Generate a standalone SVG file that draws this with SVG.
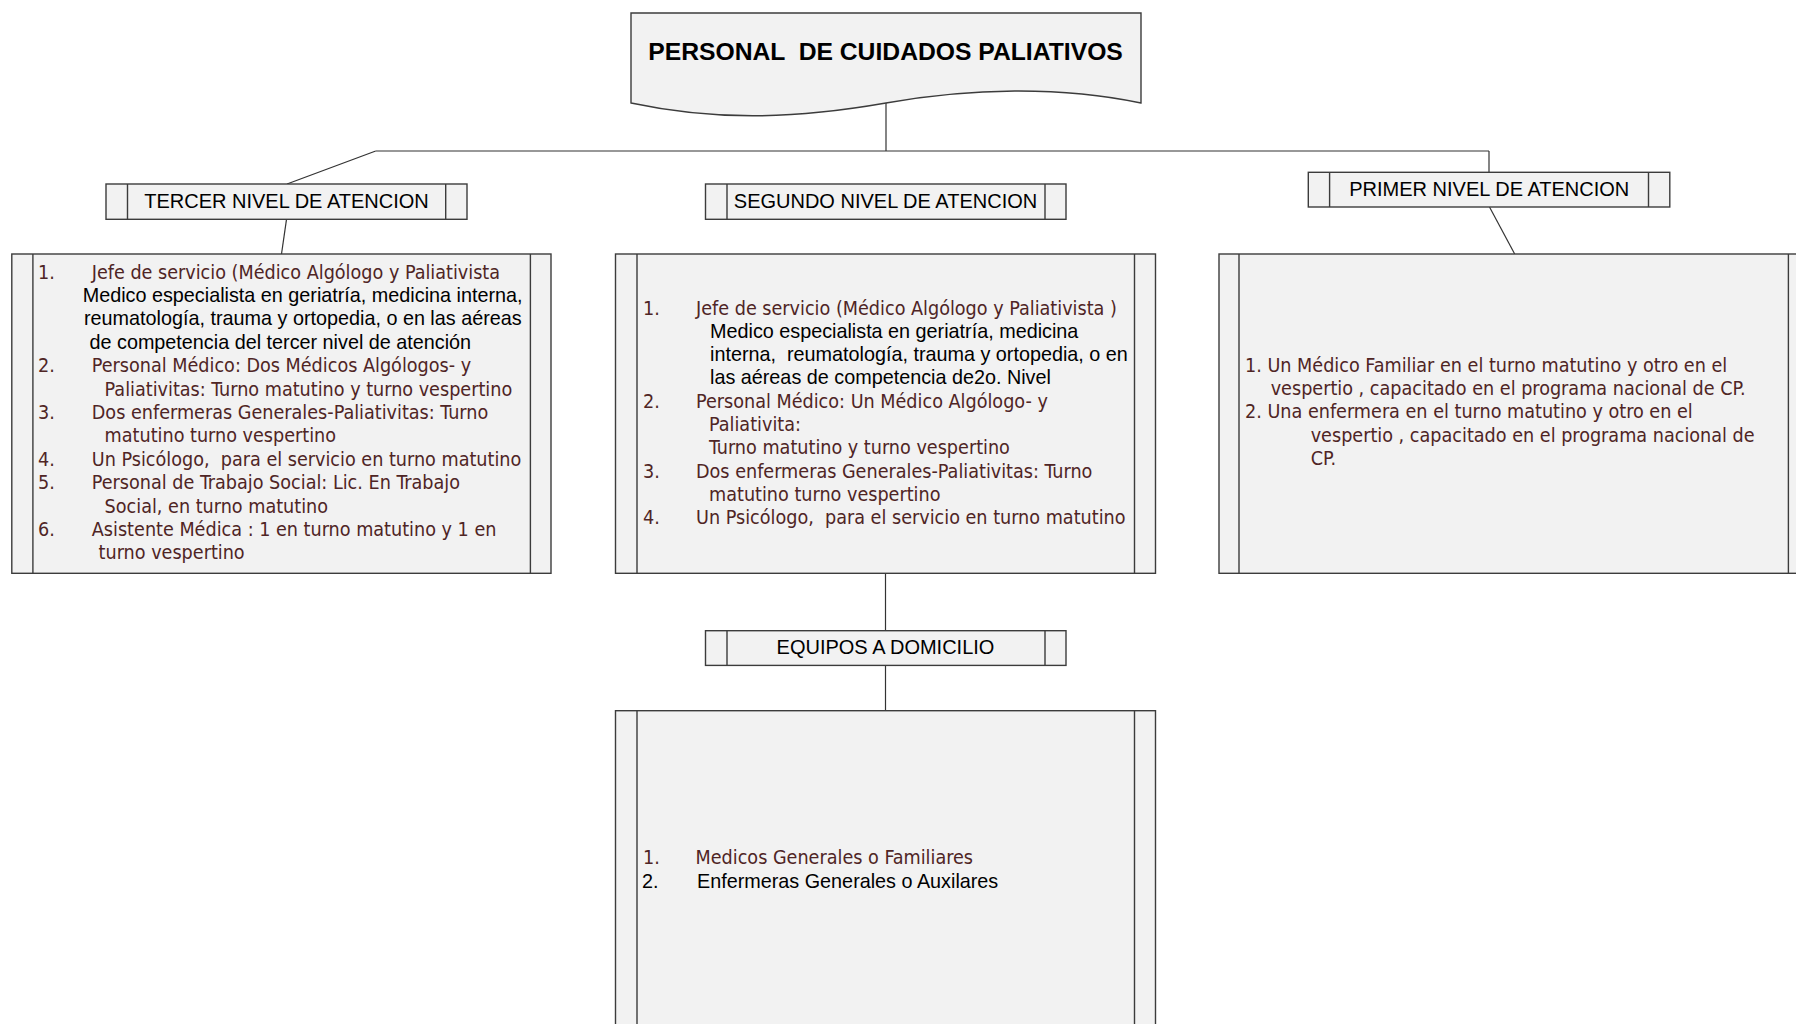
<svg xmlns="http://www.w3.org/2000/svg" width="1796" height="1024" viewBox="0 0 1796 1024" xml:space="preserve">
<style>
text{white-space:pre}
.box{fill:#f2f2f2;stroke:#3c3c3c;stroke-width:1.4}
.dv{fill:none;stroke:#3c3c3c;stroke-width:1.4}
.conn{fill:none;stroke:#333;stroke-width:1.2}
.hdr{font-family:"Liberation Sans",Arial,sans-serif;font-size:20px;fill:#000;text-anchor:middle}
.ttl{font-family:"Liberation Sans",Arial,sans-serif;font-size:24.7px;font-weight:bold;fill:#000;text-anchor:middle}
.br{font-family:"DejaVu Sans Condensed","DejaVu Sans",sans-serif;font-stretch:condensed;font-size:19.6px;fill:#4f2525}
.bk{font-family:"Liberation Sans",Arial,sans-serif;font-size:19.8px;fill:#000}
</style>
<rect width="1796" height="1024" fill="#fff"/>
<g id="connectors">
<path class="conn" d="M886,103 V151"/>
<path class="conn" d="M375.7,151 H1489"/>
<path class="conn" d="M375.7,151 L287,184"/>
<path class="conn" d="M1489,151 V172.3"/>
<path class="conn" d="M286.5,219.3 L281.5,254"/>
<path class="conn" d="M1489.5,207 L1514.7,254"/>
<path class="conn" d="M885.5,573.3 V630.7"/>
<path class="conn" d="M885.5,665.3 V710.7"/>
</g>
<g id="title">
<path class="box" d="M631,13 H1141 V103 C1060,86 970,88 886,103 C800,118 720,122 631,103 Z"/>
<text class="ttl" x="885.5" y="60">PERSONAL  DE CUIDADOS PALIATIVOS</text>
</g>
<g id="tercer-nivel">
<rect class="box" x="106" y="184" width="361" height="35.3"/>
<path class="dv" d="M127.5,184 V219.3 M445.7,184 V219.3"/>
<text class="hdr" x="286.5" y="207.7">TERCER NIVEL DE ATENCION</text>
</g>
<g id="segundo-nivel">
<rect class="box" x="705.5" y="184" width="360.5" height="35.3"/>
<path class="dv" d="M727,184 V219.3 M1045,184 V219.3"/>
<text class="hdr" x="885.5" y="207.7">SEGUNDO NIVEL DE ATENCION</text>
</g>
<g id="primer-nivel">
<rect class="box" x="1308.3" y="172.3" width="361.5" height="34.7"/>
<path class="dv" d="M1329.6,172.3 V207 M1648.5,172.3 V207"/>
<text class="hdr" x="1489.3" y="195.5">PRIMER NIVEL DE ATENCION</text>
</g>
<g id="equipos-domicilio">
<rect class="box" x="705.5" y="630.7" width="360.5" height="34.7"/>
<path class="dv" d="M727,630.7 V665.4 M1045,630.7 V665.4"/>
<text class="hdr" x="885.5" y="653.5">EQUIPOS A DOMICILIO</text>
</g>
<g id="tercer-lista">
<rect class="box" x="11.8" y="254" width="539.2" height="319.3"/>
<path class="dv" d="M32.9,254 V573.3 M530.4,254 V573.3"/>
<text class="br" x="38" y="278.5">1.</text>
<text class="br" x="91.7" y="278.5">Jefe de servicio (Médico Algólogo y Paliativista</text>
<text class="bk" x="82.7" y="301.9">Medico especialista en geriatría, medicina interna,</text>
<text class="bk" x="84" y="325.3">reumatología, trauma y ortopedia, o en las aéreas</text>
<text class="bk" x="89.5" y="348.7">de competencia del tercer nivel de atención</text>
<text class="br" x="38" y="372.1">2.</text>
<text class="br" x="91.8" y="372.1">Personal Médico: Dos Médicos Algólogos- y</text>
<text class="br" x="104.6" y="395.5">Paliativitas: Turno matutino y turno vespertino</text>
<text class="br" x="38" y="418.9">3.</text>
<text class="br" x="91.8" y="418.9">Dos enfermeras Generales-Paliativitas: Turno</text>
<text class="br" x="104.6" y="442.3">matutino turno vespertino</text>
<text class="br" x="38" y="465.7">4.</text>
<text class="br" x="91.8" y="465.7">Un Psicólogo,  para el servicio en turno matutino</text>
<text class="br" x="38" y="489.1">5.</text>
<text class="br" x="91.8" y="489.1">Personal de Trabajo Social: Lic. En Trabajo</text>
<text class="br" x="104.6" y="512.5">Social, en turno matutino</text>
<text class="br" x="38" y="535.9">6.</text>
<text class="br" x="91.8" y="535.9">Asistente Médica : 1 en turno matutino y 1 en</text>
<text class="br" x="98.6" y="559.3">turno vespertino</text>
</g>
<g id="segundo-lista">
<rect class="box" x="615.5" y="254" width="540" height="319.3"/>
<path class="dv" d="M637,254 V573.3 M1134.5,254 V573.3"/>
<text class="br" x="643" y="314.5">1.</text>
<text class="br" x="696" y="314.5">Jefe de servicio (Médico Algólogo y Paliativista )</text>
<text class="bk" x="710" y="337.8">Medico especialista en geriatría, medicina</text>
<text class="bk" x="710" y="361.1">interna,  reumatología, trauma y ortopedia, o en</text>
<text class="bk" x="710" y="384.4">las aéreas de competencia de2o. Nivel</text>
<text class="br" x="643" y="407.7">2.</text>
<text class="br" x="696" y="407.7">Personal Médico: Un Médico Algólogo- y</text>
<text class="br" x="709" y="431">Paliativita:</text>
<text class="br" x="709" y="454.3">Turno matutino y turno vespertino</text>
<text class="br" x="643" y="477.6">3.</text>
<text class="br" x="696" y="477.6">Dos enfermeras Generales-Paliativitas: Turno</text>
<text class="br" x="709" y="500.9">matutino turno vespertino</text>
<text class="br" x="643" y="524.2">4.</text>
<text class="br" x="696" y="524.2">Un Psicólogo,  para el servicio en turno matutino</text>
</g>
<g id="primer-lista">
<rect class="box" x="1219" y="254" width="592" height="319.3"/>
<path class="dv" d="M1239,254 V573.3 M1788.4,254 V573.3"/>
<text class="br" x="1245" y="371.7">1. Un Médico Familiar en el turno matutino y otro en el</text>
<text class="br" x="1270.7" y="395">vespertio , capacitado en el programa nacional de CP.</text>
<text class="br" x="1245" y="418.3">2. Una enfermera en el turno matutino y otro en el</text>
<text class="br" x="1310.7" y="441.6">vespertio , capacitado en el programa nacional de</text>
<text class="br" x="1310.7" y="464.9">CP.</text>
</g>
<g id="equipos-lista">
<rect class="box" x="615.5" y="710.7" width="540" height="330"/>
<path class="dv" d="M637,710.7 V1040 M1134.5,710.7 V1040"/>
<text class="br" x="643" y="863.5">1.</text>
<text class="br" x="695.5" y="863.5">Medicos Generales o Familiares</text>
<text class="bk" x="642" y="887.8">2.</text>
<text class="bk" x="697" y="887.8">Enfermeras Generales o Auxilares</text>
</g>
</svg>
